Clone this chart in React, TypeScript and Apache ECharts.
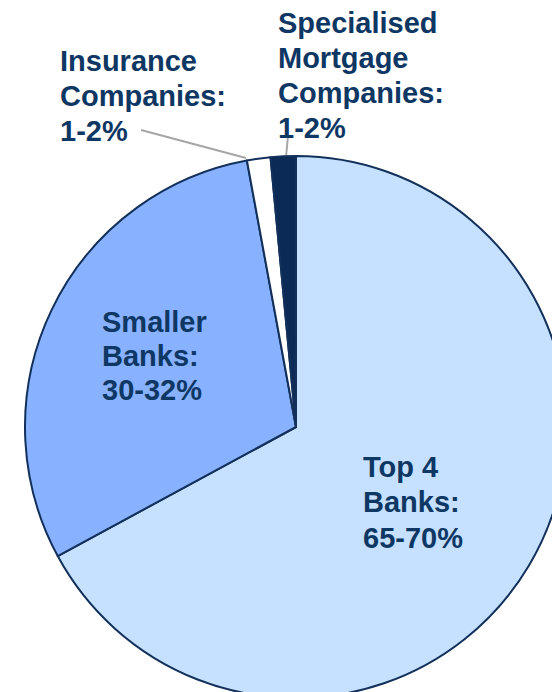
import React, { useEffect, useRef } from "react";
import * as echarts from "echarts";

const categories = ["Top 4 Banks", "Smaller Banks", "Insurance Companies", "Specialised Mortgage Companies"];
const values = [67.1, 30.0, 1.4, 1.5];
const labelTexts = [
  "Top 4\nBanks:\n65-70%",
  "Smaller\nBanks:\n30-32%",
  "Insurance\nCompanies:\n1-2%",
  "Specialised\nMortgage\nCompanies:\n1-2%",
];
const colors = ["#C5E1FF", "#88B2FF", "#FFFFFF", "#0B2A56"];

const labelPos = [
  { x: 363, y: 449, lh: 35.5 },
  { x: 102, y: 305, lh: 34 },
  { x: 60, y: 43, lh: 35 },
  { x: 278, y: 5, lh: 35 },
];

export default function App() {
  const ref = useRef<HTMLDivElement>(null);
  useEffect(() => {
    document.body.style.margin = "0";
    const chart = echarts.init(ref.current!, null, { renderer: "svg" });
    chart.setOption({
      animation: false,
      backgroundColor: "#FFFFFF",
      series: [
        {
          type: "pie",
          center: [296, 427],
          radius: 271,
          startAngle: 90,
          clockwise: true,
          silent: true,
          itemStyle: { borderColor: "#12305A", borderWidth: 2 },
          label: {
            show: true,
            position: "inside",
            color: "#0E3764",
            fontFamily: "Liberation Sans, Arial, sans-serif",
            fontWeight: "bold",
            fontSize: 29,
            align: "left",
            formatter: (p: any) => labelTexts[p.dataIndex],
          },
          labelLine: { show: false },
          labelLayout: (p: any) => {
            const l = labelPos[p.dataIndex];
            return { x: l.x, y: l.y, align: "left", verticalAlign: "top", moveOverlap: false, hideOverlap: false };
          },
          data: categories.map((c, i) => ({
            name: c,
            value: values[i],
            itemStyle: { color: colors[i] },
            label: { lineHeight: labelPos[i].lh },
          })),
        },
      ],
      graphic: [
        {
          type: "line",
          shape: { x1: 141, y1: 130, x2: 246, y2: 158 },
          style: { stroke: "#A6A6A6", lineWidth: 2 },
        },
        {
          type: "line",
          shape: { x1: 288, y1: 136, x2: 286, y2: 157 },
          style: { stroke: "#A6A6A6", lineWidth: 2 },
        },
      ],
    });
    return () => chart.dispose();
  }, []);
  return <div ref={ref} style={{ width: 552, height: 692 }} />;
}
